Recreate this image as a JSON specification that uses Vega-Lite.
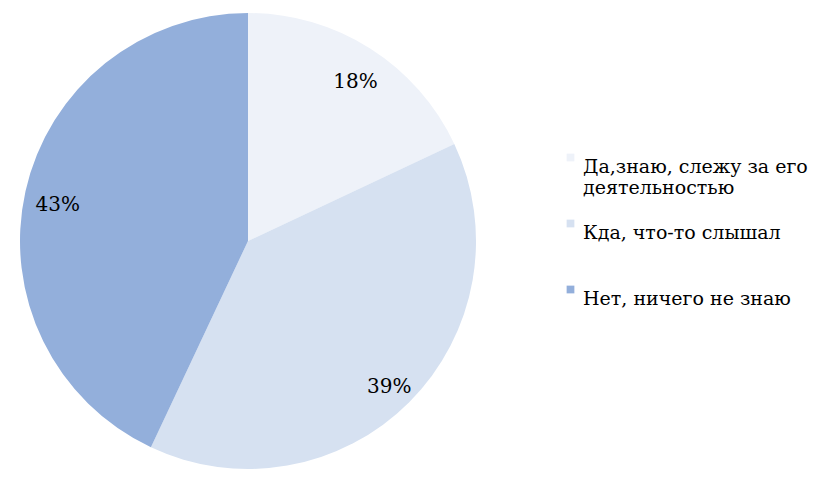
{
  "$schema": "https://vega.github.io/schema/vega-lite/v6.json",
  "width": 496,
  "height": 482,
  "padding": 0,
  "autosize": {"type": "pad"},
  "background": "white",
  "config": {"view": {"stroke": null}, "font": "DejaVu Serif"},
  "data": {
    "values": [
      {"cat": "Да,знаю, слежу за его деятельностью", "value": 18, "order": 1, "label": "18%"},
      {"cat": "Кда, что-то слышал", "value": 39, "order": 2, "label": "39%"},
      {"cat": "Нет, ничего не знаю", "value": 43, "order": 3, "label": "43%"}
    ]
  },
  "encoding": {
    "theta": {"field": "value", "type": "quantitative", "stack": true},
    "order": {"field": "order", "type": "quantitative"}
  },
  "layer": [
    {
      "mark": {"type": "arc", "outerRadius": 228},
      "encoding": {
        "color": {
          "field": "cat",
          "type": "nominal",
          "sort": ["Да,знаю, слежу за его деятельностью", "Кда, что-то слышал", "Нет, ничего не знаю"],
          "scale": {
            "domain": ["Да,знаю, слежу за его деятельностью", "Кда, что-то слышал", "Нет, ничего не знаю"],
            "range": ["#eef2f9", "#d6e1f1", "#93afdb"]
          },
          "legend": {
            "title": null,
            "orient": "none",
            "legendX": 561,
            "legendY": 148,
            "labelFont": "DejaVu Serif",
            "labelFontSize": 19,
            "labelColor": "#000000",
            "labelLimit": 400,
            "labelBaseline": "top",
            "labelOffset": 3,
            "symbolType": "square",
            "symbolSize": 60,
            "rowPadding": 16,
            "labelExpr": "datum.label == 'Да,знаю, слежу за его деятельностью' ? ['Да,знаю, слежу за его', 'деятельностью'] : datum.label == 'Кда, что-то слышал' ? ['Кда, что-то слышал', ' '] : datum.label"
          }
        }
      }
    },
    {
      "mark": {"type": "text", "radius": 197, "dy": 7, "dx": 2, "font": "DejaVu Serif", "fontSize": 20, "color": "#000000"},
      "encoding": {"text": {"field": "label"}}
    }
  ]
}
